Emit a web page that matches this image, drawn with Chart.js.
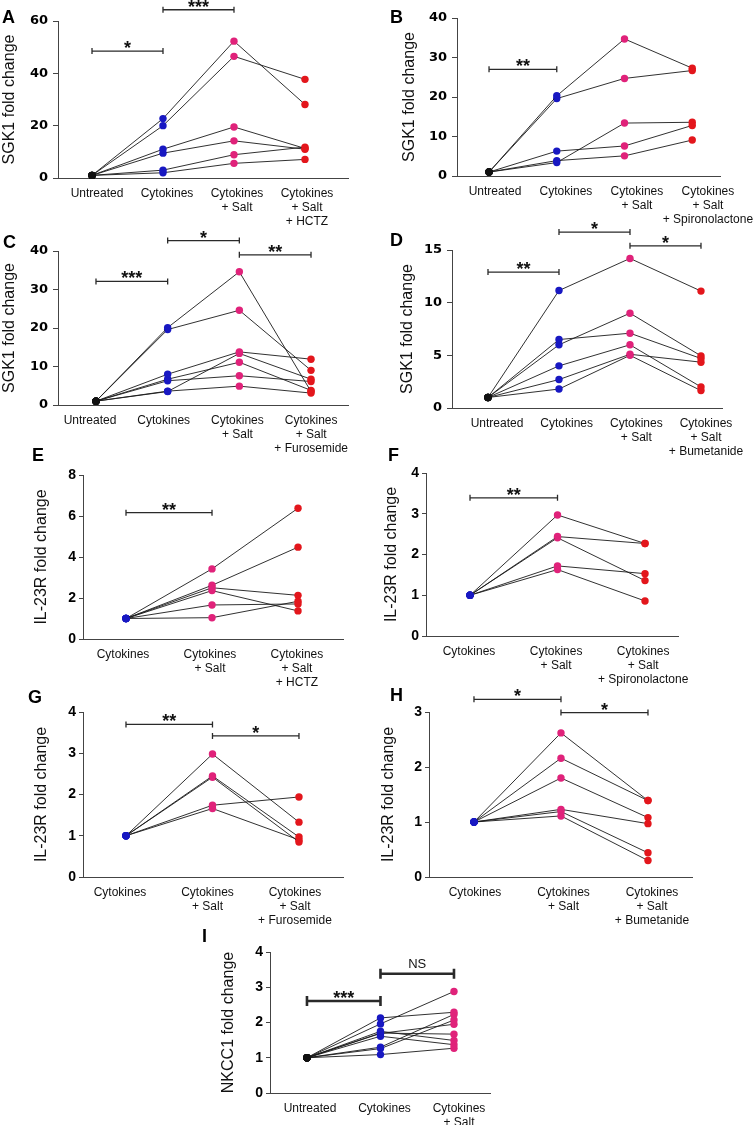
<!DOCTYPE html>
<html>
<head>
<meta charset="utf-8">
<script src="https://cdn.jsdelivr.net/npm/chart.js@4"></script>
<style>
  html, body { margin: 0; padding: 0; background: #fff; overflow: hidden; }
  #page { position: relative; width: 755px; height: 1125px; overflow: hidden; }
  #page canvas { position: absolute; }
  .tag { position: absolute; font: bold 18px/18px "Liberation Sans", Arial, sans-serif; color: #000; }
</style>
</head>
<body>
<div id="page"></div>
<script>
// ---------- data (fold change per subject, one array per condition) ----------

// category labels
const catsHctz4 = ['Untreated', 'Cytokines', ['Cytokines', '+ Salt'], ['Cytokines', '+ Salt', '+ HCTZ']];
const catsSpiro4 = ['Untreated', 'Cytokines', ['Cytokines', '+ Salt'], ['Cytokines', '+ Salt', '+ Spironolactone']];
const catsFuro4 = ['Untreated', 'Cytokines', ['Cytokines', '+ Salt'], ['Cytokines', '+ Salt', '+ Furosemide']];
const catsBum4 = ['Untreated', 'Cytokines', ['Cytokines', '+ Salt'], ['Cytokines', '+ Salt', '+ Bumetanide']];
const catsHctz3 = ['Cytokines', ['Cytokines', '+ Salt'], ['Cytokines', '+ Salt', '+ HCTZ']];
const catsSpiro3 = ['Cytokines', ['Cytokines', '+ Salt'], ['Cytokines', '+ Salt', '+ Spironolactone']];
const catsFuro3 = ['Cytokines', ['Cytokines', '+ Salt'], ['Cytokines', '+ Salt', '+ Furosemide']];
const catsBum3 = ['Cytokines', ['Cytokines', '+ Salt'], ['Cytokines', '+ Salt', '+ Bumetanide']];
const catsNkcc = ['Untreated', 'Cytokines', ['Cytokines', '+ Salt']];

// A - SGK1, HCTZ
const aUntreated = [1, 1, 1, 1, 1, 1];
const aCytokines = [22.7, 20.0, 11.0, 9.5, 3.0, 2.0];
const aSalt = [52.3, 46.5, 19.5, 14.2, 8.9, 5.6];
const aHctz = [28.1, 37.7, 11.3, 11.0, 11.8, 7.1];

// B - SGK1, spironolactone
const bUntreated = [1, 1, 1, 1, 1];
const bCytokines = [20.3, 19.6, 6.3, 3.4, 3.9];
const bSalt = [34.7, 24.7, 7.6, 13.4, 5.1];
const bSpiro = [27.3, 26.7, 12.8, 13.6, 9.1];

// C - SGK1, furosemide
const cUntreated = [1, 1, 1, 1, 1, 1, 1];
const cCytokines = [20.1, 19.6, 8.0, 3.5, 6.7, 6.3, 3.6];
const cSalt = [34.6, 24.6, 13.8, 13.4, 11.1, 7.6, 4.9];
const cFuro = [3.5, 9.0, 11.9, 6.7, 3.8, 6.1, 3.1];

// D - SGK1, bumetanide
const dUntreated = [1, 1, 1, 1, 1, 1];
const dCytokines = [11.15, 6.5, 6.0, 4.0, 2.7, 1.8];
const dSalt = [14.2, 7.1, 9.0, 6.0, 5.1, 5.0];
const dBum = [11.1, 4.7, 4.95, 2.0, 4.35, 1.65];

// E - IL-23R, HCTZ
const eCytokines = [1, 1, 1, 1, 1, 1];
const eSalt = [3.42, 2.62, 2.5, 2.36, 1.66, 1.04];
const eHctz = [6.38, 4.48, 2.13, 1.37, 1.71, 1.84];

// F - IL-23R, spironolactone
const fCytokines = [1, 1, 1, 1, 1];
const fSalt = [2.97, 2.44, 2.41, 1.72, 1.63];
const fSpiro = [2.27, 2.27, 1.36, 1.53, 0.86];

// G - IL-23R, furosemide
const gCytokines = [1, 1, 1, 1, 1];
const gSalt = [2.98, 2.45, 2.42, 1.74, 1.66];
const gFuro = [1.33, 0.97, 0.85, 1.94, 0.9];

// H - IL-23R, bumetanide
const hCytokines = [1, 1, 1, 1, 1, 1];
const hSalt = [2.62, 2.16, 1.80, 1.23, 1.19, 1.11];
const hBum = [1.39, 1.39, 1.08, 0.97, 0.44, 0.30];

// I - NKCC1
const iUntreated = [1, 1, 1, 1, 1, 1, 1, 1, 1];
const iCytokines = [2.13, 1.96, 1.75, 1.69, 1.61, 1.30, 1.26, 1.09, 1.70];
const iSalt = [2.29, 2.88, 1.49, 1.95, 1.37, 2.23, 2.07, 1.27, 1.67];

// significance brackets: [from category, to category, height (data units), label]
const sigA = [[0, 1, 48.5, '*'], [1, 2, 64.3, '***']];
const sigB = [[0, 1, 27.0, '**']];
const sigC = [[0, 1, 32.1, '***'], [1, 2, 42.7, '*'], [2, 3, 39.0, '**']];
const sigD = [[0, 1, 12.9, '**'], [1, 2, 16.7, '*'], [2, 3, 15.4, '*']];
const sigE = [[0, 1, 6.16, '**']];
const sigF = [[0, 1, 3.39, '**']];
const sigG = [[0, 1, 3.70, '**'], [1, 2, 3.42, '*']];
const sigH = [[0, 1, 3.23, '*'], [1, 2, 2.99, '*']];
const sigI = [[0, 1, 2.61, '***'], [1, 2, 3.385, 'NS']];

// ---------- drawing ----------
const BLACK = '#111111', BLUE = '#1818c2', PINK = '#e0227a', RED = '#e3161c';
const FONT = '"Liberation Sans", Arial, sans-serif';
const page = document.getElementById('page');

// draws the significance brackets through the chart's own scales
const bracketPlugin = {
    id: 'brackets',
    afterDraw(chart, args, opts) {
        const ctx = chart.ctx;
        const xs = chart.scales.x, ys = chart.scales.y;
        ctx.save();
        (opts.items || []).forEach(([a, b, v, text]) => {
            const x1 = xs.getPixelForValue(a);
            const x2 = xs.getPixelForValue(b);
            const y = ys.getPixelForValue(v);
            ctx.strokeStyle = '#2a2a2a';
            ctx.lineWidth = opts.width;
            ctx.beginPath();
            ctx.moveTo(x1, y); ctx.lineTo(x2, y);
            ctx.moveTo(x1, y - opts.cap); ctx.lineTo(x1, y + opts.cap);
            ctx.moveTo(x2, y - opts.cap); ctx.lineTo(x2, y + opts.cap);
            ctx.stroke();
            ctx.fillStyle = '#111';
            ctx.textAlign = 'center';
            ctx.textBaseline = 'alphabetic';
            if (text === 'NS') {
                ctx.font = '13px ' + FONT;
                ctx.fillText(text, (x1 + x2) / 2, y - 6);
            } else {
                ctx.font = 'bold 18px ' + FONT;
                ctx.fillText(text, (x1 + x2) / 2, y + 3);
            }
        });
        ctx.restore();
    }
};
Chart.register(bracketPlugin);

function panel(p) {
    const c = document.createElement('canvas');
    c.width = p.box[2];
    c.height = p.box[3];
    c.style.left = p.box[0] + 'px';
    c.style.top = p.box[1] + 'px';
    page.appendChild(c);

    const n = p.groups[0].length;
    const datasets = [];
    for (let i = 0; i < n; i++) {
        datasets.push({
            data: p.groups.map((g, k) => ({ x: k, y: g[i] })),
            borderColor: '#1a1a1a',
            borderWidth: 0.9,
            pointRadius: 3.7,
            pointBorderWidth: 0,
            pointBackgroundColor: p.colors,
            clip: false
        });
    }

    const tickFont = p.bigTicks
        ? { family: '"DejaVu Sans", sans-serif', weight: 'bold', size: 13 }
        : { family: FONT, weight: 'bold', size: 14 };

    new Chart(c, {
        type: 'line',
        data: { datasets },
        options: {
            responsive: false,
            animation: false,
            devicePixelRatio: 1,
            layout: { padding: { top: p.padTop, right: p.padRight, left: 0, bottom: 0 } },
            plugins: {
                legend: { display: false },
                tooltip: { enabled: false },
                brackets: { items: p.sig, width: p.thick ? 2.6 : 1.3, cap: p.thick ? 5 : 3 }
            },
            scales: {
                x: { type: 'linear', display: false, min: p.xRange[0], max: p.xRange[1] },
                xl: {
                    type: 'linear',
                    axis: 'x',
                    position: 'bottom',
                    min: p.labelRange[0],
                    max: p.labelRange[1],
                    afterBuildTicks: s => { s.ticks = p.cats.map((_, i) => ({ value: i })); },
                    afterFit: s => { s.height = 60; },
                    grid: { drawOnChartArea: false, drawTicks: false, color: '#444' },
                    border: { color: '#444', width: 1 },
                    ticks: {
                        autoSkip: false,
                        maxRotation: 0,
                        minRotation: 0,
                        padding: 8,
                        color: '#111',
                        font: { family: FONT, size: 12 },
                        callback: v => p.cats[Math.round(v)]
                    }
                },
                y: {
                    min: 0,
                    max: p.yMax,
                    afterFit: s => { s.width = p.yWidth; },
                    grid: { drawOnChartArea: false, tickLength: p.bigTicks ? 5 : 4, color: '#444' },
                    border: { color: '#444', width: 1 },
                    ticks: { stepSize: p.yStep, padding: p.bigTicks ? 5 : 3, color: '#000', font: tickFont },
                    title: { display: true, text: p.yTitle, color: '#111', padding: 0, font: { family: FONT, size: 16 } }
                }
            }
        }
    });
}

function tag(letter, x, y) {
    const d = document.createElement('div');
    d.className = 'tag';
    d.textContent = letter;
    d.style.left = x + 'px';
    d.style.top = y + 'px';
    page.appendChild(d);
}

// box = [left, top, width, height] of each canvas on the page
panel({ box: [0, 0, 372, 238], padTop: 21, padRight: 24, yWidth: 58, yMax: 60, yStep: 20, bigTicks: true,
    yTitle: 'SGK1 fold change', cats: catsHctz4, xRange: [-0.479, 3.606], labelRange: [-0.557, 3.586],
    groups: [aUntreated, aCytokines, aSalt, aHctz], colors: [BLACK, BLUE, PINK, RED], sig: sigA });

panel({ box: [400, 0, 370, 236], padTop: 18, padRight: 50, yWidth: 57, yMax: 40, yStep: 10, bigTicks: true,
    yTitle: 'SGK1 fold change', cats: catsSpiro4, xRange: [-0.473, 3.41], labelRange: [-0.535, 3.17],
    groups: [bUntreated, bCytokines, bSalt, bSpiro], colors: [BLACK, BLUE, PINK, RED], sig: sigB });

panel({ box: [0, 225, 372, 240], padTop: 26, padRight: 24, yWidth: 58, yMax: 40, yStep: 10, bigTicks: true,
    yTitle: 'SGK1 fold change', cats: catsFuro4, xRange: [-0.53, 3.516], labelRange: [-0.434, 3.5],
    groups: [cUntreated, cCytokines, cSalt, cFuro], colors: [BLACK, BLUE, PINK, RED], sig: sigC });

panel({ box: [398, 215, 372, 253], padTop: 35, padRight: 48, yWidth: 54, yMax: 15, yStep: 5, bigTicks: true,
    yTitle: 'SGK1 fold change', cats: catsBum4, xRange: [-0.507, 3.296], labelRange: [-0.646, 3.23],
    groups: [dUntreated, dCytokines, dSalt, dBum], colors: [BLACK, BLUE, PINK, RED], sig: sigD });

panel({ box: [32, 448, 340, 251], padTop: 27, padRight: 29, yWidth: 51, yMax: 8, yStep: 2,
    yTitle: 'IL-23R fold change', cats: catsHctz3, xRange: [-0.5, 2.523], labelRange: [-0.46, 2.53],
    groups: [eCytokines, eSalt, eHctz], colors: [BLUE, PINK, RED], sig: sigE });

panel({ box: [382, 448, 388, 248], padTop: 25, padRight: 92, yWidth: 44, yMax: 4, yStep: 1,
    yTitle: 'IL-23R fold change', cats: catsSpiro3, xRange: [-0.503, 2.377], labelRange: [-0.494, 2.40],
    groups: [fCytokines, fSalt, fSpiro], colors: [BLUE, PINK, RED], sig: sigF });

panel({ box: [32, 688, 340, 249], padTop: 24, padRight: 29, yWidth: 51, yMax: 4, yStep: 1,
    yTitle: 'IL-23R fold change', cats: catsFuro3, xRange: [-0.497, 2.509], labelRange: [-0.423, 2.549],
    groups: [gCytokines, gSalt, gFuro], colors: [BLUE, PINK, RED], sig: sigG });

panel({ box: [379, 680, 391, 257], padTop: 32, padRight: 78, yWidth: 50, yMax: 3, yStep: 1,
    yTitle: 'IL-23R fold change', cats: catsBum3, xRange: [-0.517, 2.506], labelRange: [-0.52, 2.452],
    groups: [hCytokines, hSalt, hBum], colors: [BLUE, PINK, RED], sig: sigH });

panel({ box: [219, 940, 301, 213], padTop: 12, padRight: 30, yWidth: 51, yMax: 4, yStep: 1, thick: true,
    yTitle: 'NKCC1 fold change', cats: catsNkcc, xRange: [-0.503, 2.49], labelRange: [-0.537, 2.416],
    groups: [iUntreated, iCytokines, iSalt], colors: [BLACK, BLUE, PINK], sig: sigI });

tag('A', 2, 8);
tag('B', 390, 8);
tag('C', 3, 233);
tag('D', 390, 231);
tag('E', 32, 446);
tag('F', 388, 446);
tag('G', 28, 688);
tag('H', 390, 686);
tag('I', 202, 927);
</script>
</body>
</html>
